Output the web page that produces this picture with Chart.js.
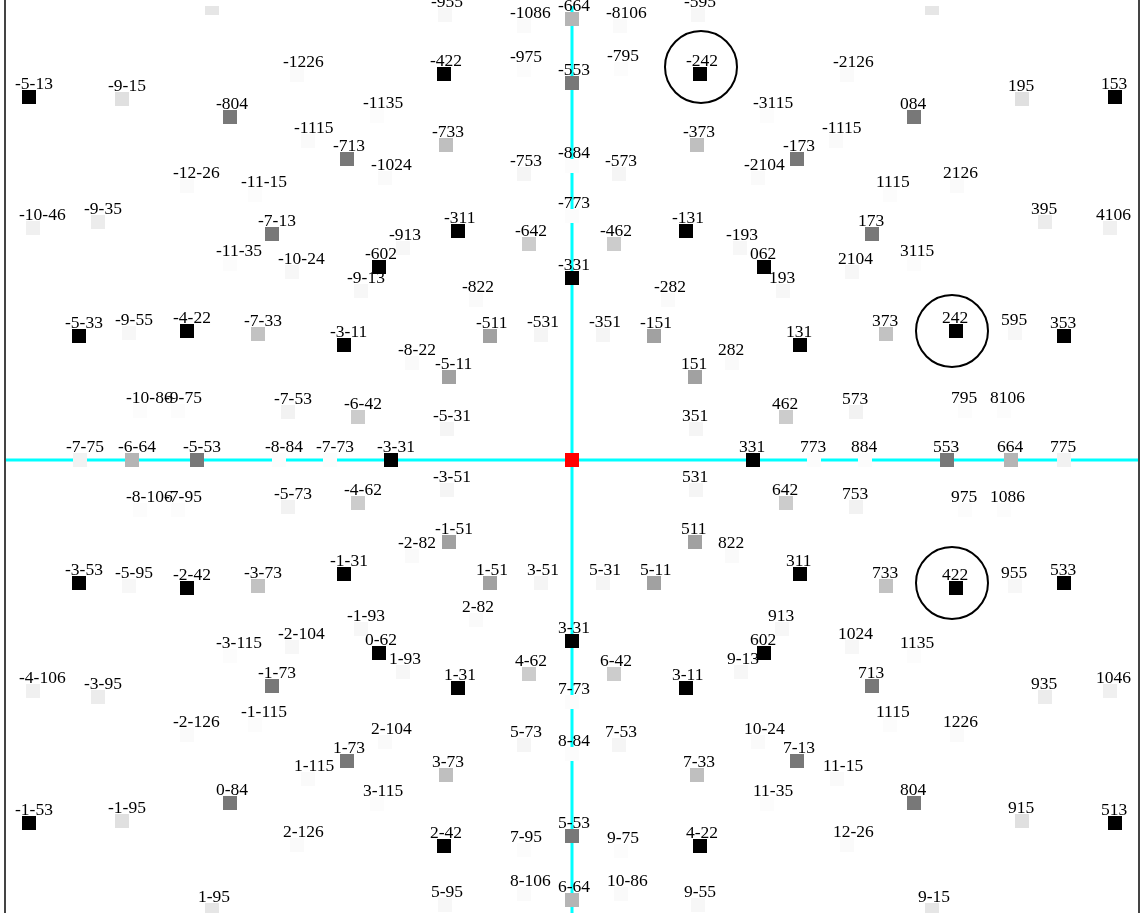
<!DOCTYPE html>
<html>
<head>
<meta charset="utf-8">
<title>Pole figure</title>
<script src="https://cdn.jsdelivr.net/npm/chart.js@4.4.1/dist/chart.umd.min.js"></script>
<style>
  html, body { margin: 0; padding: 0; background: #fff; overflow: hidden; }
  canvas { display: block; }
</style>
</head>
<body>
<canvas id="chart" width="1141" height="913"></canvas>
<script>
// axis limits (plot units)
const xMin = -5.66, xMax = 5.66;
const yMin = -4.53, yMax = 4.54;

// spots: label, position, intensity (1 = black, 0 = white)
const spotLabels = [
  '-915','-955','-1086','-664','-5-13','-9-15','-1226','-422','-975','-553',
  '-804','-1135','-1115','-713','-733','-12-26','-11-15','-1024','-753','-884',
  '-10-46','-9-35','-7-13','-11-35','-10-24','-602','-9-13','-913','-311','-642',
  '-773','-331','-822',
  '-195','-8106','-595','-795','-242','-2126','195','153','-3115','084',
  '-373','-173','-1115','-573','-2104','1115','2126','-462','-131','-193',
  '062','193','173','2104','3115','395','4106','-282',
  '-5-33','-9-55','-4-22','-7-33','-3-11','-8-22','-511','-531','-351','-151',
  '282','-5-11','151','131','373','242','595','353','-10-86','-9-75',
  '-7-53','-6-42','-5-31','351','462','573','795','8106',
  '-7-75','-6-64','-5-53','-8-84','-7-73','-3-31','331','773','884','553','664','775',
  '-8-106','-7-95','-5-73','-4-62','-3-51','531','642','753','975','1086',
  '-1-51','511','-2-82','822','-3-53','-5-95','-2-42','-3-73','-1-31','1-51',
  '3-51','5-31','5-11','311','733','422','955','533',
  '2-82','-1-93','-3-115','-2-104','0-62','1-93','1-31','4-62','3-31','7-73',
  '-4-106','-3-95','-1-73','-1-115','-2-126','2-104','5-73','8-84','1-73','1-115',
  '3-73','3-115','0-84','-1-53','-1-95','2-126','2-42','7-95','5-53','8-106',
  '6-64','5-95','1-95',
  '6-42','3-11','9-13','602','913','1024','1135','713','935','1046',
  '7-53','10-24','1115','1226','7-33','7-13','11-15','11-35','804','915',
  '513','12-26','9-75','4-22','10-86','9-55','9-15'
];
const spotX = [
  -3.60,-1.27,-0.48,0,-5.43,-4.50,-2.75,-1.28,-0.48,0,
  -3.42,-1.95,-2.64,-2.25,-1.26,-3.85,-3.17,-1.87,-0.48,0,
  -5.39,-4.74,-3.00,-3.42,-2.80,-1.93,-2.11,-1.69,-1.14,-0.43,
  0,0,-0.96,
  3.60,0.48,1.26,0.49,1.28,2.75,4.50,5.43,1.95,3.42,
  1.25,2.25,2.64,0.47,1.86,3.18,3.85,0.42,1.14,1.68,
  1.92,2.11,3.00,2.80,3.42,4.73,5.38,0.96,
  -4.93,-4.43,-3.85,-3.14,-2.28,-1.60,-0.82,-0.31,0.31,0.82,
  1.60,-1.23,1.23,2.28,3.14,3.84,4.43,4.92,-4.32,-3.94,
  -2.84,-2.14,-1.25,1.24,2.14,2.84,3.93,4.32,
  -4.92,-4.40,-3.75,-2.93,-2.42,-1.81,1.81,2.42,2.93,3.75,4.39,4.92,
  -4.32,-3.94,-2.84,-2.14,-1.25,1.24,2.14,2.84,3.93,4.32,
  -1.23,1.23,-1.60,1.60,-4.93,-4.43,-3.85,-3.14,-2.28,-0.82,
  -0.31,0.31,0.82,2.28,3.14,3.84,4.43,4.92,
  -0.96,-2.11,-3.42,-2.80,-1.93,-1.69,-1.14,-0.43,0,0,
  -5.39,-4.74,-3.00,-3.17,-3.85,-1.87,-0.48,0,-2.25,-2.64,
  -1.26,-1.95,-3.42,-5.43,-4.50,-2.75,-1.28,-0.48,0,-0.48,
  0,-1.27,-3.60,
  0.42,1.14,1.69,1.92,2.10,2.80,3.42,3.00,4.73,5.38,
  0.47,1.86,3.18,3.85,1.25,2.25,2.65,1.95,3.42,4.50,
  5.43,2.75,0.49,1.28,0.49,1.26,3.60
];
const spotY = [
  4.52,4.45,4.34,4.41,3.63,3.61,3.85,3.86,3.90,3.77,
  3.43,3.44,3.19,3.01,3.15,2.74,2.65,2.82,2.86,2.94,
  2.32,2.38,2.26,1.96,1.88,1.93,1.69,2.12,2.29,2.16,
  2.44,1.82,1.60,
  4.52,4.34,4.45,3.91,3.86,3.85,3.61,3.63,3.44,3.43,
  3.15,3.01,3.19,2.86,2.82,2.65,2.74,2.16,2.29,2.12,
  1.93,1.69,2.26,1.88,1.96,2.38,2.32,1.60,
  1.24,1.27,1.29,1.26,1.15,0.97,1.24,1.25,1.25,1.24,
  0.97,0.83,0.83,1.15,1.26,1.29,1.27,1.24,0.49,0.49,
  0.48,0.43,0.31,0.31,0.43,0.48,0.49,0.49,
  0,0,0,0,0,0,0,0,0,0,0,0,
  -0.50,-0.50,-0.47,-0.43,-0.30,-0.30,-0.43,-0.47,-0.50,-0.50,
  -0.82,-0.82,-0.96,-0.96,-1.23,-1.26,-1.28,-1.26,-1.14,-1.23,
  -1.23,-1.23,-1.23,-1.14,-1.26,-1.28,-1.26,-1.23,
  -1.60,-1.69,-1.96,-1.87,-1.93,-2.12,-2.28,-2.14,-1.81,-2.42,
  -2.31,-2.37,-2.26,-2.65,-2.75,-2.82,-2.85,-2.94,-3.01,-3.19,
  -3.15,-3.44,-3.43,-3.63,-3.61,-3.85,-3.86,-3.90,-3.76,-4.34,
  -4.40,-4.45,-4.50,
  -2.14,-2.28,-2.12,-1.93,-1.69,-1.87,-1.96,-2.26,-2.37,-2.31,
  -2.85,-2.82,-2.65,-2.75,-3.15,-3.01,-3.19,-3.44,-3.43,-3.61,
  -3.63,-3.85,-3.91,-3.86,-4.34,-4.45,-4.50
];
const spotIntensity = [
  0.10,0.03,0.02,0.29,1,0.12,0.02,1,0.01,0.53,
  0.53,0.01,0.02,0.53,0.25,0.02,0.01,0.02,0.04,0.01,
  0.06,0.075,0.53,0.01,0.03,1,0.03,0.03,1,0.20,
  0.01,1,0.02,
  0.10,0.02,0.03,0.01,1,0.02,0.12,1,0.01,0.53,
  0.25,0.53,0.02,0.04,0.02,0.01,0.02,0.20,1,0.03,
  1,0.03,0.53,0.03,0.01,0.075,0.06,0.02,
  1,0.03,1,0.24,1,0.02,0.37,0.04,0.04,0.37,
  0.02,0.37,0.37,1,0.24,1,0.03,1,0.01,0.01,
  0.05,0.20,0.04,0.04,0.20,0.05,0.01,0.01,
  0.05,0.29,0.53,0.01,0.01,1,1,0.01,0.01,0.53,0.29,0.05,
  0.01,0.01,0.05,0.20,0.04,0.04,0.20,0.05,0.01,0.01,
  0.37,0.37,0.02,0.02,1,0.03,1,0.24,1,0.37,
  0.04,0.04,0.37,1,0.24,1,0.03,1,
  0.02,0.03,0.01,0.03,1,0.03,1,0.20,1,0.01,
  0.06,0.075,0.53,0.01,0.02,0.02,0.04,0.01,0.53,0.02,
  0.25,0.01,0.53,1,0.12,0.02,1,0.01,0.53,0.02,
  0.29,0.03,0.10,
  0.20,1,0.03,1,0.03,0.03,0.01,0.53,0.075,0.06,
  0.04,0.02,0.01,0.02,0.25,0.53,0.02,0.01,0.53,0.12,
  1,0.02,0.01,1,0.02,0.03,0.10
];

// beam centre and marked poles
const centerX = [0], centerY = [0];
const circleX = [1.29, 3.80, 3.80];
const circleY = [3.93, 1.29, -1.23];

const grey = v => { const g = Math.round(255 * (1 - v)); return `rgb(${g},${g},${g})`; };
const toPts = (xs, ys) => xs.map((x, i) => ({ x, y: ys[i] }));

const sideLines = {
  id: 'sideLines',
  beforeDatasetsDraw(chart) {
    const { ctx, chartArea: a } = chart;
    ctx.save();
    ctx.strokeStyle = '#444';
    ctx.lineWidth = 2;
    ctx.beginPath();
    ctx.moveTo(a.left - 1, 0); ctx.lineTo(a.left - 1, a.bottom);
    ctx.moveTo(a.right + 1, 0); ctx.lineTo(a.right + 1, a.bottom);
    ctx.stroke();
    ctx.restore();
  }
};

const spotText = {
  id: 'spotText',
  afterDatasetsDraw(chart) {
    const meta = chart.getDatasetMeta(2);
    const ctx = chart.ctx;
    ctx.save();
    ctx.font = '17.5px "Liberation Serif"';
    ctx.fillStyle = '#000';
    ctx.textAlign = 'left';
    ctx.textBaseline = 'alphabetic';
    meta.data.forEach((p, i) => ctx.fillText(spotLabels[i], p.x - 14, p.y - 8));
    ctx.restore();
  }
};

const sq = 7 / Math.SQRT1_2;

new Chart(document.getElementById('chart'), {
  type: 'scatter',
  data: {
    datasets: [
      { type: 'line', data: [{ x: xMin, y: 0 }, { x: xMax, y: 0 }], borderColor: '#00ffff', borderWidth: 3, pointRadius: 0, order: 5 },
      { type: 'line', data: [{ x: 0, y: yMin }, { x: 0, y: yMax }], borderColor: '#00ffff', borderWidth: 3, pointRadius: 0, order: 5 },
      { data: toPts(spotX, spotY), pointStyle: 'rect', pointRadius: sq, pointBorderWidth: 0,
        pointBackgroundColor: spotIntensity.map(grey), clip: 0, order: 3 },
      { data: toPts(centerX, centerY), pointStyle: 'rect', pointRadius: sq, pointBorderWidth: 0,
        pointBackgroundColor: '#ff0000', order: 2 },
      { data: toPts(circleX, circleY), pointStyle: 'circle', pointRadius: 36, pointBorderWidth: 2,
        pointBorderColor: '#000', pointBackgroundColor: 'rgba(0,0,0,0)', clip: false, order: 1 }
    ]
  },
  options: {
    responsive: false,
    animation: false,
    devicePixelRatio: 1,
    layout: { autoPadding: false, padding: { left: 6, right: 3, top: 6, bottom: 0 } },
    plugins: { legend: { display: false }, tooltip: { enabled: false } },
    scales: {
      x: { type: 'linear', min: xMin, max: xMax, display: false },
      y: { type: 'linear', min: yMin, max: yMax, display: false }
    }
  },
  plugins: [sideLines, spotText]
});
</script>
</body>
</html>
